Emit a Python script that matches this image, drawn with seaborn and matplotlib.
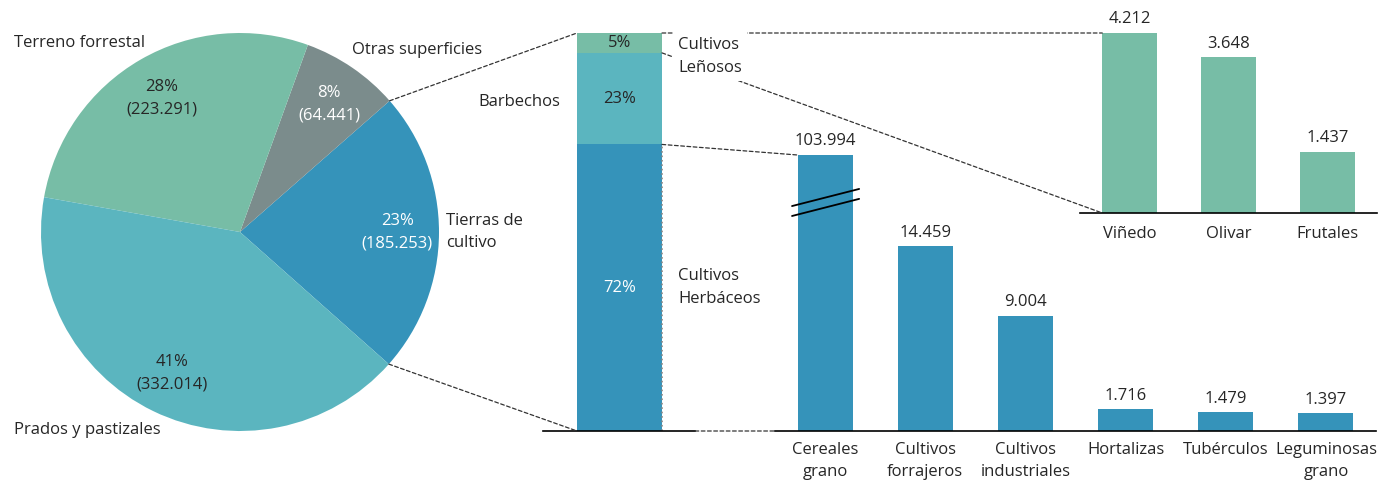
import matplotlib
matplotlib.use('Agg')
import matplotlib.pyplot as plt
import matplotlib.transforms as mtransforms
from matplotlib.patches import ConnectionPatch
import numpy as np
import seaborn as sns

# ---------------- data ----------------
pie_labels = ['Tierras de\ncultivo', 'Otras superficies', 'Terreno forrestal', 'Prados y pastizales']
pie_values = [185253, 64441, 223291, 332014]

stack_labels = ['Cultivos\nHerbáceos', 'Barbechos', 'Cultivos\nLeñosos']
stack_pct = [72, 23, 5]

herb_cats = ['Cereales\ngrano', 'Cultivos\nforrajeros', 'Cultivos\nindustriales',
             'Hortalizas', 'Tubérculos', 'Leguminosas\ngrano']
herb_values = [103994, 14459, 9004, 1716, 1479, 1397]

len_cats = ['Viñedo', 'Olivar', 'Frutales']
len_values = [4212, 3648, 1437]

# ---------------- style ----------------
BLUE = '#3593ba'
GREY = '#7b8c8c'
GREEN = '#77bda6'
TEAL = '#5bb5bf'
pie_colors = [BLUE, GREY, GREEN, TEAL]
stack_colors = [BLUE, TEAL, GREEN]
TXT = '#262626'
FS = 12
LS = 1.55

sns.set_theme(style='white')
plt.rcParams['font.family'] = ['Open Sans', 'DejaVu Sans']
plt.rcParams['text.color'] = TXT


def fmt(v):
    return f'{v:,}'.replace(',', '.')


W, H = 1383, 484
fig = plt.figure(figsize=(W / 100, H / 100), dpi=100)


def px_axes(x0, y0, x1, y1):
    return fig.add_axes([x0 / W, 1 - y1 / H, (x1 - x0) / W, (y1 - y0) / H])


# ---------------- pie ----------------
ax_p = px_axes(41, 33, 439, 431)
wedges, _ = ax_p.pie(pie_values, colors=pie_colors, startangle=-41.6, counterclock=True,
                     radius=1, wedgeprops=dict(linewidth=0))
ax_p.set_xlim(-1, 1)
ax_p.set_ylim(-1, 1)
ax_p.set_aspect('equal')
ax_p.axis('off')

total = sum(pie_values)
pct_pos = [(0.79, 0.0), (0.447, 0.643), (-0.392, 0.673), (-0.342, -0.709)]
pct_col = ['white', 'white', TXT, TXT]
for v, (x, y), c in zip(pie_values, pct_pos, pct_col):
    ax_p.text(x, y, f'{round(v / total * 100)}%\n({fmt(v)})', ha='center', va='center',
              color=c, fontsize=FS, linespacing=LS)

name_pos = [(1.035, 0.0, 'left'), (0.563, 0.915, 'left'), (-1.136, 0.95, 'left'),
            (-1.136, -0.995, 'left')]
for lab, (x, y, ha) in zip(pie_labels, name_pos):
    ax_p.text(x, y, lab, ha=ha, va='center', fontsize=FS, linespacing=LS, clip_on=False)

# ---------------- stacked bar ----------------
ax_s = px_axes(543, 33, 695, 431)
bottom = 0
mids = []
for p, c in zip(stack_pct, stack_colors):
    ax_s.bar(0, p, bottom=bottom, width=1, color=c, linewidth=0)
    mids.append(bottom + p / 2)
    bottom += p
ax_s.set_xlim(-0.9, 0.888)
ax_s.set_ylim(0, sum(stack_pct))
for s in ['top', 'left', 'right']:
    ax_s.spines[s].set_visible(False)
ax_s.spines['bottom'].set_color('black')
ax_s.spines['bottom'].set_linewidth(1.2)
ax_s.set_xticks([])
ax_s.set_yticks([])
for p, m, c in zip(stack_pct, mids, ['white', TXT, TXT]):
    ax_s.text(0, m, f'{p}%', ha='center', va='center', color=c, fontsize=FS)

# dotted right edge of herbaceous segment
ax_s.vlines(0.5, 0, stack_pct[0], colors='#888888', linestyles=':', linewidth=1.2)

ax_s.text(0.69, mids[0], stack_labels[0], ha='left', va='center', fontsize=FS, linespacing=LS)
ax_s.text(-0.7, mids[1] - 0.8, stack_labels[1], ha='right', va='center', fontsize=FS)
fig.text(0.69, stack_pct[0] + stack_pct[1] - 0.9, stack_labels[2], transform=ax_s.transData,
         ha='left', va='center', fontsize=FS, linespacing=LS, zorder=5,
         bbox=dict(facecolor='white', edgecolor='none', pad=4))

# ---------------- herbaceous bar chart ----------------
ax_h = px_axes(775, 155, 1376, 431)
sns.barplot(x=herb_cats, y=herb_values, ax=ax_h, color=BLUE, saturation=1, width=0.55,
            linewidth=0)
ytop_h = 21600
ax_h.set_ylim(0, ytop_h)
ax_h.set_xlim(-0.5, len(herb_cats) - 0.5)
for s in ['top', 'left', 'right']:
    ax_h.spines[s].set_visible(False)
ax_h.spines['bottom'].set_color('black')
ax_h.spines['bottom'].set_linewidth(1.2)
ax_h.set_yticks([])
ax_h.set_xlabel('')
ax_h.set_ylabel('')
ax_h.tick_params(axis='x', length=0, pad=8, labelsize=FS, labelcolor=TXT)
for lab in ax_h.get_xticklabels():
    lab.set_linespacing(1.5)
for i, v in enumerate(herb_values):
    ax_h.annotate(fmt(v), (i, min(v, ytop_h)), xytext=(0, 4), textcoords='offset points',
                  ha='center', va='bottom', fontsize=FS, annotation_clip=False)
# axis-break marks on the first bar
blend = mtransforms.blended_transform_factory(ax_h.transData, ax_h.transAxes)
for dy in (0.0, -0.036):
    ax_h.plot([-0.33, 0.34], [0.815 + dy, 0.877 + dy], color='black', lw=1.3,
              transform=blend, clip_on=False, zorder=4)

# ---------------- woody bar chart ----------------
ax_l = px_axes(1080, 33, 1377, 213)
sns.barplot(x=len_cats, y=len_values, ax=ax_l, color=GREEN, saturation=1, width=0.55,
            linewidth=0)
ax_l.set_ylim(0, max(len_values))
ax_l.set_xlim(-0.5, len(len_cats) - 0.5)
for s in ['top', 'left', 'right']:
    ax_l.spines[s].set_visible(False)
ax_l.spines['bottom'].set_color('black')
ax_l.spines['bottom'].set_linewidth(1.2)
ax_l.set_yticks([])
ax_l.set_xlabel('')
ax_l.set_ylabel('')
ax_l.tick_params(axis='x', length=0, pad=9, labelsize=FS, labelcolor=TXT)
for i, v in enumerate(len_values):
    ax_l.annotate(fmt(v), (i, v), xytext=(0, 4), textcoords='offset points',
                  ha='center', va='bottom', fontsize=FS, annotation_clip=False)

# ---------------- connectors ----------------
def connect(xyA, axA, xyB, axB, cA='data', cB='data', ls=(0, (3, 2)), color='#333333'):
    con = ConnectionPatch(xyA=xyA, coordsA=axA.transData if cA == 'data' else axA.transAxes,
                          xyB=xyB, coordsB=axB.transData if cB == 'data' else axB.transAxes,
                          color=color, linewidth=0.9, linestyle=ls, zorder=1)
    fig.add_artist(con)


w0 = wedges[0]
t1, t2 = np.deg2rad(w0.theta1), np.deg2rad(w0.theta2)
connect((np.cos(t2), np.sin(t2)), ax_p, (-0.5, sum(stack_pct)), ax_s)
connect((np.cos(t1), np.sin(t1)), ax_p, (-0.5, 0), ax_s)

hb0 = ax_h.patches[0]
connect((0.5, stack_pct[0]), ax_s, (hb0.get_x(), ytop_h), ax_h)
connect((1, 0), ax_s, (0, 0), ax_h, cA='axes', cB='axes')

lb0 = ax_l.patches[0]
connect((0.5, sum(stack_pct)), ax_s, (lb0.get_x(), len_values[0]), ax_l)
connect((0.5, stack_pct[0] + stack_pct[1]), ax_s, (lb0.get_x(), 0), ax_l)

fig.savefig('out.png', dpi=100, facecolor='white')
